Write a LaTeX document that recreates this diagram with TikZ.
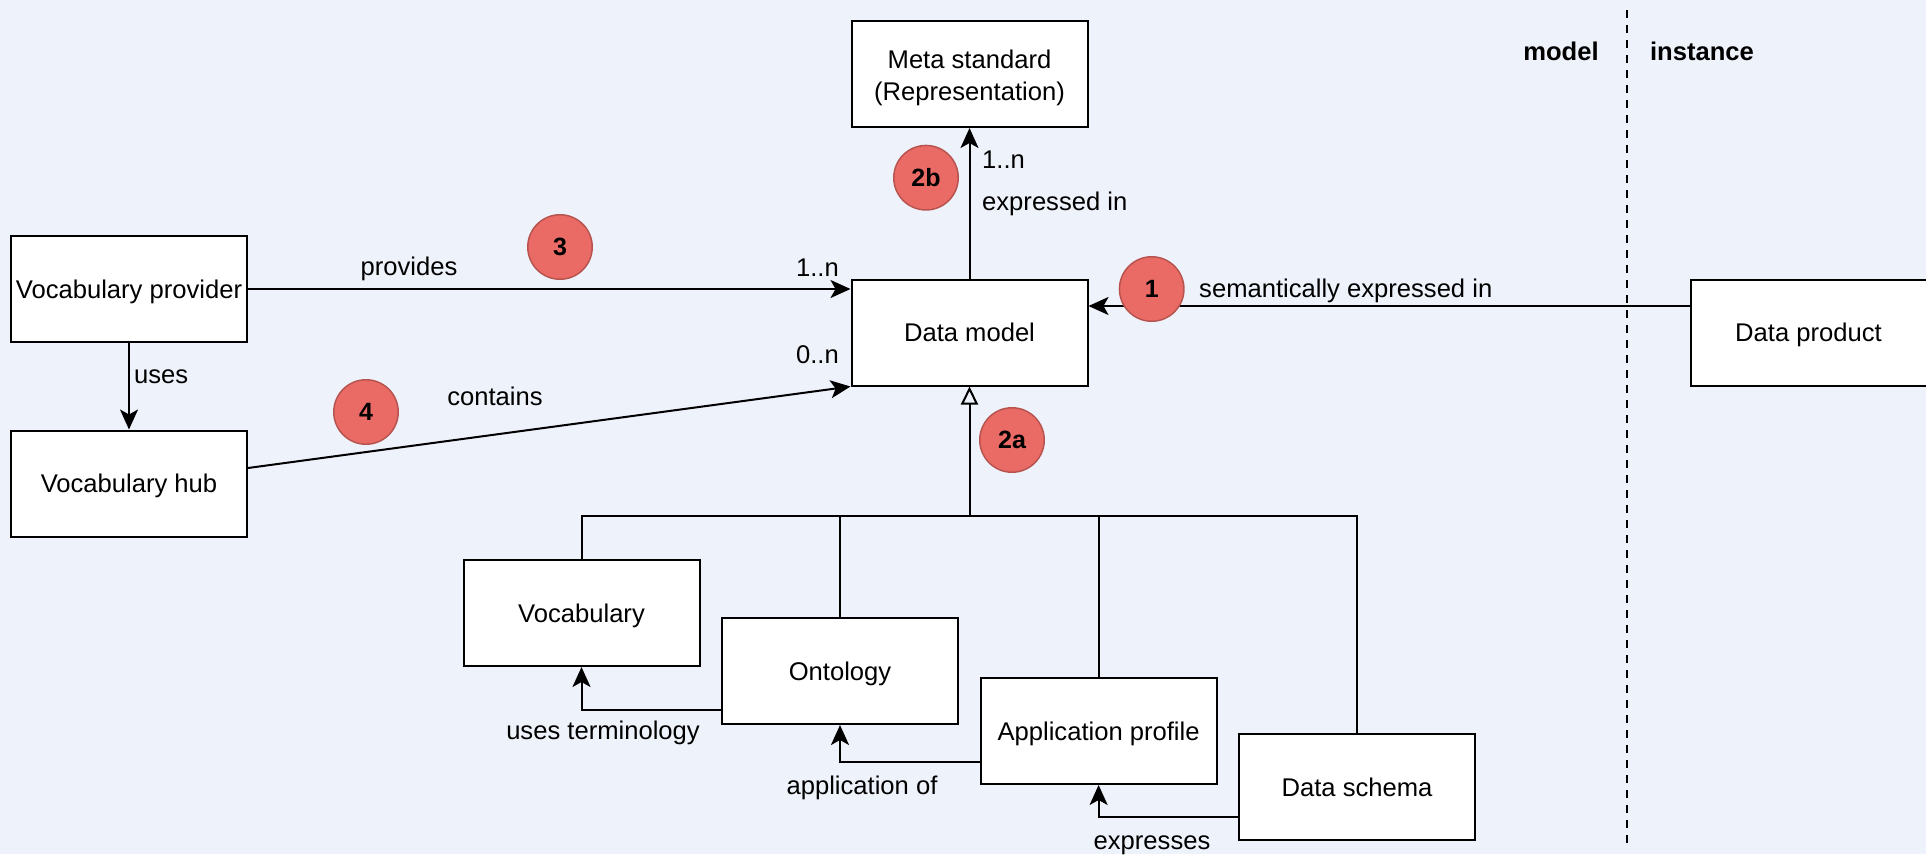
\documentclass[tikz,border=0pt]{standalone}
\usepackage{fontspec}
\setmainfont{Liberation Sans}
\usetikzlibrary{arrows.meta,calc}
\definecolor{bgc}{RGB}{238,242,250}
\definecolor{badgefill}{HTML}{EA6B66}
\definecolor{badgeline}{HTML}{B85450}

\begin{document}
\begin{tikzpicture}[x=1pt,y=-1pt,
  every node/.style={font=\fontsize{25.6}{32}\selectfont},
  box/.style={draw=black, fill=white, line width=2pt, minimum width=236pt,
    minimum height=106pt, inner sep=0pt, align=center},
  onebox/.style={box, text height=18.4pt, text depth=0pt},
  conn/.style={line width=2pt, -{Stealth[length=20pt,width=18pt,inset=5pt]}},
  plain/.style={line width=2pt},
  gen/.style={line width=2pt, -{Triangle[open,length=18pt,width=17pt,line width=2pt]}},
  lbl/.style={inner sep=0pt, text height=18.4pt, text depth=5.4pt},
  boldlbl/.style={lbl, font=\fontsize{25.6}{32}\selectfont\bfseries},
  badge/.style={circle, fill=badgefill, draw=badgeline, line width=1.5pt,
    minimum size=64.5pt, inner sep=0pt, font=\fontsize{25}{30}\selectfont\bfseries},
  divider/.style={line width=1.5pt, dash pattern=on 8pt off 7pt}
]
% canvas
\fill[bgc] (0,0) rectangle (1926,854);
\useasboundingbox (0,0) rectangle (1926,854);

% model / instance divider
\coordinate (divtop) at (1627,10);
\coordinate (divbot) at (1627,845);
\draw[divider] (divtop) -- (divbot);
\node[boldlbl] (lmodel) at (1561,54) {model};
\node[boldlbl] (linst) at (1702,54) {instance};

% boxes
\node[box] (meta) at (969.5,74) {\rule{0pt}{25.7pt}Meta standard\\(Representation)};
\node[onebox] (dm) at (969.5,332.5) {Data model};
\node[onebox] (dp) at (1808.5,332.5) {Data product};
\node[onebox] (vp) at (129,289) {Vocabulary provider};
\node[onebox] (vh) at (129,483.5) {Vocabulary hub};
\node[onebox] (voc) at (581.5,613) {Vocabulary};
\node[onebox] (ont) at (840,671) {Ontology};
\node[onebox] (ap) at (1098.6,731) {Application profile};
\node[onebox] (ds) at (1357,787) {Data schema};

% junction of the specialisation tree
\coordinate (bus) at (969.5,516);

% associations
\draw[conn] (vp.east) -- (vp.east -| dm.west);
\draw[conn] (vp.south) -- (vh.north);
\draw[conn] ([yshift=15.5pt]vh.east) -- (dm.south west);
\draw[conn] (dm.north) -- (meta.south);
\draw[conn] ([yshift=26.5pt]dp.west) -- ([yshift=26.5pt]dm.east);

% specialisation tree
\draw[plain] (voc.north) |- (bus);
\draw[plain] (ont.north) |- (bus);
\draw[plain] (ap.north) |- (bus);
\draw[plain] (ds.north) |- (bus);
\draw[gen] (bus) -- (dm.south);

% dependencies between the kinds of data model
\draw[conn] ([yshift=-39pt]ont.west) -| (voc.south);
\draw[conn] ([yshift=-30.7pt]ap.west) -| (ont.south);
\draw[conn] ([yshift=-29.7pt]ds.west) -| (ap.south);

% connector labels
\node[lbl] (lprov) at (409,269) {provides};
\node[lbl, anchor=east] (lprovm) at (839,270) {1..n};
\node[lbl, anchor=east] (lcontm) at (839,357) {0..n};
\node[lbl, anchor=west] (luses) at (134,377) {uses};
\node[lbl] (lcont) at (495,399) {contains};
\node[lbl, anchor=west] (lexprm) at (982,162) {1..n};
\node[lbl, anchor=west] (lexpr) at (982,204) {expressed in};
\node[lbl, anchor=west] (lsem) at (1199,291) {semantically expressed in};
\node[lbl] (lterm) at (603,733) {uses terminology};
\node[lbl] (lappl) at (862,788) {application of};
\node[lbl] (lexpresses) at (1152,843) {expresses};

% numbered badges
\node[badge] (b1) at (1151.7,289) {1};
\node[badge] (b2b) at (926,177.7) {2b};
\node[badge] (b3) at (560,247) {3};
\node[badge] (b4) at (366,412) {4};
\node[badge] (b2a) at (1012,440) {2a};
\end{tikzpicture}
\end{document}
